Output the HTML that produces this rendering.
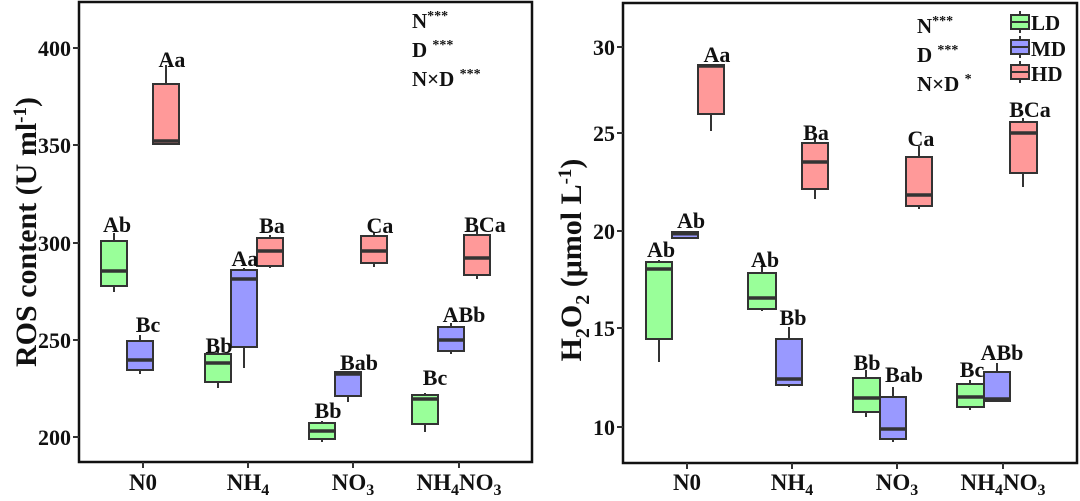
<!DOCTYPE html>
<html><head><meta charset="utf-8"><style>
html,body{margin:0;padding:0;background:#fff;}
svg text{font-family:"Liberation Serif",serif;font-weight:bold;fill:#111;}
</style></head><body>
<svg width="1080" height="496" viewBox="0 0 1080 496" xmlns="http://www.w3.org/2000/svg">
<g stroke="#333" stroke-width="2">
<rect x="79" y="2" width="453" height="460" fill="none" stroke="#111" stroke-width="2.5"/>
<rect x="623" y="3" width="454" height="460" fill="none" stroke="#111" stroke-width="2.5"/>
<line x1="73" y1="48" x2="79" y2="48"/><line x1="73" y1="145" x2="79" y2="145"/><line x1="73" y1="243" x2="79" y2="243"/><line x1="73" y1="340" x2="79" y2="340"/><line x1="73" y1="437" x2="79" y2="437"/>
<line x1="143" y1="462" x2="143" y2="468"/><line x1="248" y1="462" x2="248" y2="468"/><line x1="353" y1="462" x2="353" y2="468"/><line x1="459" y1="462" x2="459" y2="468"/>
<line x1="617" y1="47" x2="623" y2="47"/><line x1="617" y1="133" x2="623" y2="133"/><line x1="617" y1="231" x2="623" y2="231"/><line x1="617" y1="328" x2="623" y2="328"/><line x1="617" y1="427" x2="623" y2="427"/>
<line x1="687" y1="463" x2="687" y2="469"/><line x1="792" y1="463" x2="792" y2="469"/><line x1="897" y1="463" x2="897" y2="469"/><line x1="1003" y1="463" x2="1003" y2="469"/>
</g>
<g id="boxes" stroke="#333" stroke-width="2">
<line x1="114" y1="233" x2="114" y2="292"/><rect x="101" y="241" width="26" height="45" fill="#99ff99"/><line x1="101" y1="271" x2="127" y2="271" stroke-width="3.5"/>
<line x1="140" y1="335" x2="140" y2="374"/><rect x="127" y="341" width="26" height="29" fill="#9999ff"/><line x1="127" y1="360" x2="153" y2="360" stroke-width="3.5"/>
<line x1="166" y1="65" x2="166" y2="144"/><rect x="153" y="84" width="26" height="60" fill="#ff9999"/><line x1="153" y1="141" x2="179" y2="141" stroke-width="3.5"/>
<line x1="218" y1="351" x2="218" y2="388"/><rect x="205" y="354" width="26" height="28" fill="#99ff99"/><line x1="205" y1="363" x2="231" y2="363" stroke-width="3.5"/>
<line x1="244" y1="268" x2="244" y2="368"/><rect x="231" y="270" width="26" height="77" fill="#9999ff"/><line x1="231" y1="279" x2="257" y2="279" stroke-width="3.5"/>
<line x1="270" y1="235" x2="270" y2="268"/><rect x="257" y="238" width="26" height="28" fill="#ff9999"/><line x1="257" y1="251" x2="283" y2="251" stroke-width="3.5"/>
<line x1="322" y1="421" x2="322" y2="442"/><rect x="309" y="423" width="26" height="16" fill="#99ff99"/><line x1="309" y1="431" x2="335" y2="431" stroke-width="3.5"/>
<line x1="348" y1="372" x2="348" y2="402"/><rect x="335" y="372" width="26" height="24" fill="#9999ff"/><line x1="335" y1="374" x2="361" y2="374" stroke-width="3.5"/>
<line x1="374" y1="232" x2="374" y2="267"/><rect x="361" y="236" width="26" height="27" fill="#ff9999"/><line x1="361" y1="251" x2="387" y2="251" stroke-width="3.5"/>
<line x1="425" y1="393" x2="425" y2="432"/><rect x="412" y="395" width="26" height="29" fill="#99ff99"/><line x1="412" y1="399" x2="438" y2="399" stroke-width="3.5"/>
<line x1="451" y1="323" x2="451" y2="354"/><rect x="438" y="327" width="26" height="24" fill="#9999ff"/><line x1="438" y1="340" x2="464" y2="340" stroke-width="3.5"/>
<line x1="477" y1="228" x2="477" y2="279"/><rect x="464" y="235" width="26" height="40" fill="#ff9999"/><line x1="464" y1="258" x2="490" y2="258" stroke-width="3.5"/>
<line x1="659" y1="260" x2="659" y2="362"/><rect x="646" y="262" width="26" height="77" fill="#99ff99"/><line x1="646" y1="269" x2="672" y2="269" stroke-width="3.5"/>
<line x1="685" y1="231" x2="685" y2="239"/><rect x="672" y="232" width="26" height="6" fill="#9999ff"/><line x1="672" y1="234" x2="698" y2="234" stroke-width="3"/>
<line x1="711" y1="65" x2="711" y2="131"/><rect x="698" y="65" width="26" height="49" fill="#ff9999"/><line x1="698" y1="66" x2="724" y2="66" stroke-width="3.5"/>
<line x1="762" y1="265" x2="762" y2="311"/><rect x="748" y="273" width="28" height="36" fill="#99ff99"/><line x1="748" y1="298" x2="776" y2="298" stroke-width="3.5"/>
<line x1="789" y1="327" x2="789" y2="387"/><rect x="776" y="339" width="26" height="46" fill="#9999ff"/><line x1="776" y1="379" x2="802" y2="379" stroke-width="3.5"/>
<line x1="815" y1="139" x2="815" y2="199"/><rect x="802" y="143" width="26" height="46" fill="#ff9999"/><line x1="802" y1="162" x2="828" y2="162" stroke-width="3.5"/>
<line x1="866" y1="370" x2="866" y2="417"/><rect x="853" y="378" width="27" height="34" fill="#99ff99"/><line x1="853" y1="398" x2="880" y2="398" stroke-width="3.5"/>
<line x1="893" y1="387" x2="893" y2="442"/><rect x="880" y="397" width="26" height="42" fill="#9999ff"/><line x1="880" y1="429" x2="906" y2="429" stroke-width="3.5"/>
<line x1="919" y1="146" x2="919" y2="209"/><rect x="906" y="157" width="26" height="49" fill="#ff9999"/><line x1="906" y1="195" x2="932" y2="195" stroke-width="3.5"/>
<line x1="970" y1="380" x2="970" y2="410"/><rect x="957" y="384" width="27" height="23" fill="#99ff99"/><line x1="957" y1="397" x2="984" y2="397" stroke-width="3.5"/>
<line x1="997" y1="363" x2="997" y2="401"/><rect x="984" y="372" width="26" height="29" fill="#9999ff"/><line x1="984" y1="399" x2="1010" y2="399" stroke-width="3.5"/>
<line x1="1023" y1="118" x2="1023" y2="187"/><rect x="1010" y="122" width="27" height="51" fill="#ff9999"/><line x1="1010" y1="133" x2="1037" y2="133" stroke-width="3.5"/>
<line x1="1020" y1="11" x2="1020" y2="33"/><rect x="1011" y="15" width="18" height="14" fill="#99ff99"/><line x1="1011" y1="22" x2="1029" y2="22"/>
<line x1="1020" y1="36" x2="1020" y2="58"/><rect x="1011" y="40" width="18" height="14" fill="#9999ff"/><line x1="1011" y1="47" x2="1029" y2="47"/>
<line x1="1020" y1="61" x2="1020" y2="83"/><rect x="1011" y="65" width="18" height="14" fill="#ff9999"/><line x1="1011" y1="72" x2="1029" y2="72"/>
</g>
<g font-size="22" text-anchor="end">
<text x="71" y="56">400</text><text x="71" y="153">350</text><text x="71" y="251">300</text><text x="71" y="348">250</text><text x="71" y="445">200</text>
<text x="615" y="55">30</text><text x="615" y="141">25</text><text x="615" y="239">20</text><text x="615" y="336">15</text><text x="615" y="435">10</text>
</g>
<g font-size="23" text-anchor="middle">
<text x="143" y="490">N0</text>
<text x="248" y="490">NH<tspan font-size="16" dy="5">4</tspan></text>
<text x="353" y="490">NO<tspan font-size="16" dy="5">3</tspan></text>
<text x="459" y="490">NH<tspan font-size="16" dy="5">4</tspan><tspan dy="-5">NO</tspan><tspan font-size="16" dy="5">3</tspan></text>
<text x="687" y="490">N0</text>
<text x="792" y="490">NH<tspan font-size="16" dy="5">4</tspan></text>
<text x="897" y="490">NO<tspan font-size="16" dy="5">3</tspan></text>
<text x="1003" y="490">NH<tspan font-size="16" dy="5">4</tspan><tspan dy="-5">NO</tspan><tspan font-size="16" dy="5">3</tspan></text>
</g>
<text font-size="30" text-anchor="middle" transform="translate(36,232) rotate(-90)">ROS content (U ml<tspan font-size="19" dy="-10">-1</tspan><tspan dy="10">)</tspan></text>
<text font-size="30" text-anchor="middle" transform="translate(581,260) rotate(-90)">H<tspan font-size="20" dy="8">2</tspan><tspan dy="-8">O</tspan><tspan font-size="20" dy="8">2</tspan><tspan dy="-8"> (μmol L</tspan><tspan font-size="19" dy="-10">-1</tspan><tspan dy="10">)</tspan></text>
<g font-size="22" text-anchor="middle">
<text x="172" y="67">Aa</text><text x="117" y="232">Ab</text><text x="148" y="332">Bc</text>
<text x="219" y="353">Bb</text><text x="245" y="266">Aa</text><text x="272" y="233">Ba</text>
<text x="328" y="418">Bb</text><text x="359" y="370">Bab</text><text x="380" y="233">Ca</text>
<text x="435" y="385">Bc</text><text x="464" y="322">ABb</text><text x="485" y="232">BCa</text>
<text x="717" y="62">Aa</text><text x="691" y="228">Ab</text><text x="661" y="257">Ab</text>
<text x="765" y="267">Ab</text><text x="793" y="325">Bb</text><text x="816" y="140">Ba</text>
<text x="867" y="370">Bb</text><text x="904" y="382">Bab</text><text x="921" y="146">Ca</text>
<text x="972" y="377">Bc</text><text x="1002" y="360">ABb</text><text x="1030" y="117">BCa</text>
</g>
<g font-size="21">
<text x="412" y="28">N<tspan font-size="14" dy="-8">***</tspan></text>
<text x="412" y="57">D <tspan font-size="14" dy="-8">***</tspan></text>
<text x="412" y="86">N×D <tspan font-size="14" dy="-8">***</tspan></text>
<text x="917" y="33">N<tspan font-size="14" dy="-8">***</tspan></text>
<text x="917" y="62">D <tspan font-size="14" dy="-8">***</tspan></text>
<text x="917" y="91">N×D <tspan font-size="14" dy="-8">*</tspan></text>
<text x="1031" y="30">LD</text><text x="1031" y="56">MD</text><text x="1031" y="81">HD</text>
</g>
</svg>
</body></html>
